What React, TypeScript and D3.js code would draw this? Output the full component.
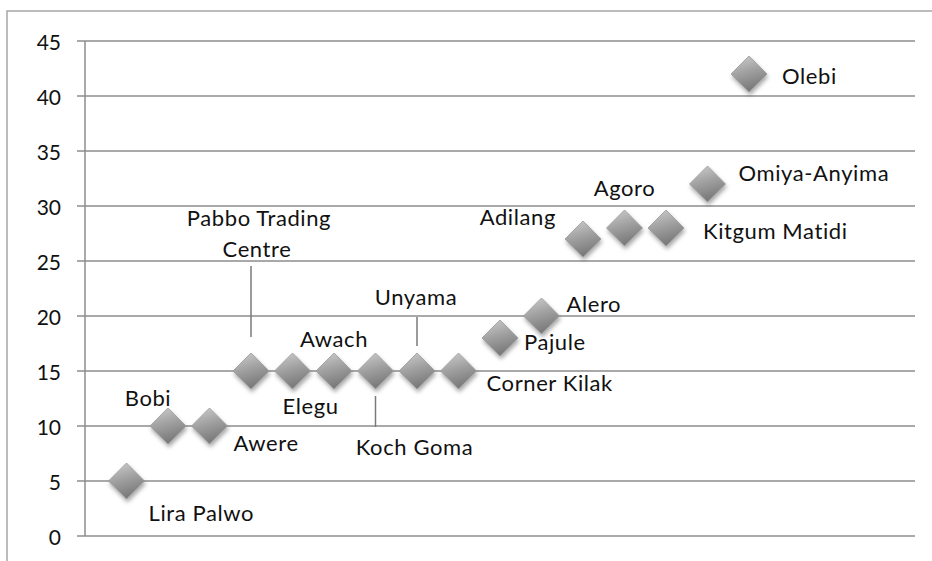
import React from "react";
import { select, scaleLinear, range } from "d3";

const names = [
  "Lira Palwo", "Bobi", "Awere", "Pabbo Trading Centre", "Elegu", "Awach",
  "Koch Goma", "Unyama", "Corner Kilak", "Pajule", "Alero", "Adilang",
  "Agoro", "Kitgum Matidi", "Omiya-Anyima", "Olebi",
];
const xValues = [1, 2, 3, 4, 5, 6, 7, 8, 9, 10, 11, 12, 13, 14, 15, 16];
const yValues = [5, 10, 10, 15, 15, 15, 15, 15, 15, 18, 20, 27, 28, 28, 32, 42];
const yTicks = [0, 5, 10, 15, 20, 25, 30, 35, 40, 45];

// label placement relative to each point (px): dx, dy, anchor
const labelPos: [number, number, string][] = [
  [22, 31, "start"], [-20, -29, "middle"], [24, 16, "start"], [8, -154, "middle"],
  [18, 34, "middle"], [0, -33, "middle"], [39, 75, "middle"], [-1, -75, "middle"],
  [28, 11, "start"], [24, 3, "start"], [25, -13, "start"], [-27, -23, "end"],
  [0, -41, "middle"], [37, 2, "start"], [31, -12, "start"], [33, 1, "start"],
];
// leader lines: point index, from dy, to dy
const leaders: [number, number, number][] = [
  [3, -105, -34],
  [6, 25, 56],
  [7, -54, -25],
];

const W = 932;
const H = 561;
const margin = { top: 41, right: 17, bottom: 25, left: 85 };

export default function App() {
  const svgRef = React.useRef<SVGSVGElement>(null);

  React.useEffect(() => {
    const svg = select(svgRef.current);
    svg.selectAll("*").remove();

    const x = scaleLinear().domain([0, 20]).range([margin.left, W - margin.right]);
    const y = scaleLinear().domain([0, 45]).range([H - margin.bottom, margin.top]);

    const defs = svg.append("defs");
    const grad = defs
      .append("linearGradient")
      .attr("id", "dgrad")
      .attr("x1", 0).attr("y1", 0).attr("x2", 0.3).attr("y2", 1);
    grad.append("stop").attr("offset", "0%").attr("stop-color", "#d0d0d0");
    grad.append("stop").attr("offset", "50%").attr("stop-color", "#a2a2a2");
    grad.append("stop").attr("offset", "100%").attr("stop-color", "#7a7a7a");
    defs
      .append("filter")
      .attr("id", "shadow")
      .attr("x", "-50%").attr("y", "-50%").attr("width", "200%").attr("height", "200%")
      .append("feDropShadow")
      .attr("dx", 1).attr("dy", 3).attr("stdDeviation", 2)
      .attr("flood-color", "#000").attr("flood-opacity", 0.35);

    // outer frame
    svg
      .append("rect")
      .attr("x", 7).attr("y", 11).attr("width", W + 20).attr("height", H + 20)
      .attr("fill", "white").attr("stroke", "#a6a6a6").attr("stroke-width", 1.5);

    // grid lines
    svg
      .append("g")
      .selectAll("line")
      .data(yTicks)
      .join("line")
      .attr("x1", margin.left - 8)
      .attr("x2", W - margin.right)
      .attr("y1", (d) => y(d))
      .attr("y2", (d) => y(d))
      .attr("stroke", "#8c8c8c")
      .attr("stroke-width", 1.5);

    // y axis
    svg
      .append("line")
      .attr("x1", x(0)).attr("x2", x(0))
      .attr("y1", y(45)).attr("y2", y(0))
      .attr("stroke", "#8c8c8c").attr("stroke-width", 1.5);

    svg
      .append("g")
      .selectAll("text")
      .data(yTicks)
      .join("text")
      .attr("x", 61)
      .attr("y", (d) => y(d))
      .attr("text-anchor", "end")
      .attr("dominant-baseline", "central")
      .attr("font-family", "Lato, sans-serif")
      .attr("font-size", 21)
      .attr("fill", "#111")
      .text((d) => d);

    const pts = range(names.length).map((i) => ({
      cx: x(xValues[i]),
      cy: y(yValues[i]),
      name: names[i],
      pos: labelPos[i],
    }));

    // leader lines
    svg
      .append("g")
      .selectAll("line")
      .data(leaders)
      .join("line")
      .attr("x1", (d) => pts[d[0]].cx)
      .attr("x2", (d) => pts[d[0]].cx)
      .attr("y1", (d) => pts[d[0]].cy + d[1])
      .attr("y2", (d) => pts[d[0]].cy + d[2])
      .attr("stroke", "#7a7a7a")
      .attr("stroke-width", 1.5);

    const r = 18;
    svg
      .append("g")
      .selectAll("path")
      .data(pts)
      .join("path")
      .attr(
        "d",
        (d) => `M${d.cx},${d.cy - r}L${d.cx + r},${d.cy}L${d.cx},${d.cy + r}L${d.cx - r},${d.cy}Z`
      )
      .attr("fill", "url(#dgrad)")
      .attr("stroke", "#9a9a9a")
      .attr("stroke-width", 0.8)
      .attr("filter", "url(#shadow)");

    const labels = svg
      .append("g")
      .attr("font-family", "Lato, sans-serif")
      .attr("font-size", 22)
      .attr("letter-spacing", 0.6)
      .attr("fill", "#111");

    pts.forEach((p) => {
      const [dx, dy, anchor] = p.pos;
      if (p.name === "Pabbo Trading Centre") {
        labels
          .append("text")
          .attr("x", p.cx + dx).attr("y", p.cy + dy)
          .attr("text-anchor", "middle").attr("dominant-baseline", "central")
          .text("Pabbo Trading");
        labels
          .append("text")
          .attr("x", p.cx + dx - 2).attr("y", p.cy + dy + 31)
          .attr("text-anchor", "middle").attr("dominant-baseline", "central")
          .text("Centre");
      } else {
        labels
          .append("text")
          .attr("x", p.cx + dx).attr("y", p.cy + dy)
          .attr("text-anchor", anchor).attr("dominant-baseline", "central")
          .text(p.name);
      }
    });
  }, []);

  return (
    <svg
      ref={svgRef}
      width={W}
      height={H}
      style={{ position: "absolute", left: 0, top: 0, display: "block" }}
    />
  );
}
